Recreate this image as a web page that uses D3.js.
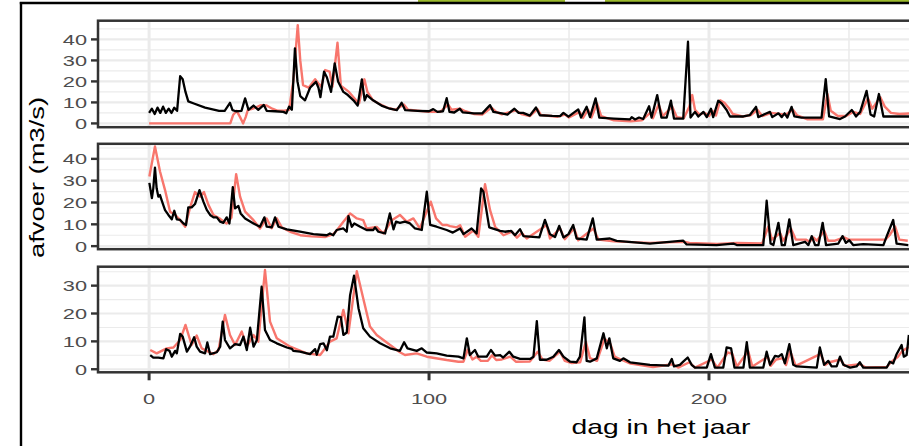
<!DOCTYPE html>
<html>
<head>
<meta charset="utf-8">
<script src="https://cdn.jsdelivr.net/npm/d3@7"></script>
<style>
  body { margin: 0; background: #fff; }
  svg { display: block; font-family: "Liberation Sans", Arial, sans-serif; }
</style>
</head>
<body>
<svg width="909" height="446"></svg>
<script>
// values: [day, afvoer]
const obs1 = [[0,0],[29,0],[30,4],[31.3,6],[32.5,3],[33.6,0],[34.5,3],[35.3,6.5],[36.5,6.8],[38,7.5],[40,8.7],[42,8.5],[44,7],[46,6],[48,6],[50,6.5],[51.5,20],[53.1,46.8],[54,30],[55,18.2],[57,17],[59.3,21],[60.5,19],[61.5,17.5],[62.9,25.4],[64.5,24.6],[65.5,17.5],[67.3,38.4],[68.5,18],[71.4,15],[73,12.5],[75,9.5],[76.9,21],[78,15],[80,11],[82,9.5],[85,7.5],[88,6.5],[91,9],[92.5,6.5],[96,6],[100,5.5],[104,5.5],[106.8,9],[108,6.5],[111,7],[113,5.8],[116,4.5],[119,4.2],[122.3,7.5],[124,5.5],[126,4.3],[131,6.2],[133,4.5],[136,3.5],[138.7,6.8],[140,4],[146,3.2],[148.5,4.2],[150,2.8],[153.8,5.5],[155,2.6],[156.8,6.5],[158,2.8],[160,9.5],[161.5,3.5],[166,1.5],[172,1],[176,1.5],[179,5],[180,2.5],[182,9],[183.5,3.5],[186.9,8],[188.5,3],[191,2.5],[193,8],[194,13.5],[195,6.5],[196.5,4.3],[198.5,5],[200,3.5],[201.2,6],[202.5,3.8],[204,11],[205.5,9.8],[207,7.5],[208.5,4.5],[212,3.3],[215,4],[217.3,6.5],[219,3.5],[222.3,5],[225.3,4.5],[227.5,4.2],[230,6.5],[231.5,3.8],[235,2],[240.7,2],[242.3,14],[243.5,6],[246,3.5],[249,3.5],[251.5,5.5],[254,4.5],[256.8,12],[258.3,7],[261.2,12.5],[262.8,8],[265,5],[268,4.5],[272,4.8]];
const sim1 = [[0,5],[1,7],[2,4.5],[3,7.5],[4,5],[5,8],[6,5],[7,7],[8,5],[9,7.5],[10,6],[11.1,22.5],[12,21],[13,15],[14,10.5],[16,9.5],[20,7.5],[25,6],[27,6],[28.9,9.8],[29.8,6.3],[31,5.8],[33,6],[34.3,11.9],[35.5,6.5],[37.3,8.5],[39,6.5],[41,8.8],[42,6],[45,5.8],[48,5.5],[49,4.8],[50,8],[51,6.5],[52.1,35.7],[53,20],[54,13],[55.7,11],[57.5,17],[59.6,19.8],[60.5,17],[61.2,12.5],[62.5,24.6],[63.5,22],[65,15],[66.3,28.6],[67.5,20],[69.4,15],[71,13.5],[73,11],[74.5,8.5],[76,21],[77,11],[77.8,13.5],[80,11],[83,8.5],[86,7],[88.5,6.3],[90.2,9.8],[91.5,6.3],[96,6],[100,5.8],[101.5,6.8],[103,5.5],[105,5.8],[106.3,12],[107.3,5.5],[109,5.2],[111,7],[112,5.3],[116,4.8],[119,4.8],[121.8,8.7],[123,5.5],[126,4.8],[128,4.2],[130.5,7],[132,5],[133.6,5],[136,3.7],[138.2,7.6],[139.6,3.9],[144,3.6],[146.8,3.5],[148,5],[149.8,3.2],[153.3,6.7],[154.3,2.8],[156.3,7.9],[157.5,3],[159.5,11.9],[160.8,2.8],[166,2.3],[171.8,1.9],[172.4,3],[173.6,1.9],[175,2.8],[176.5,2.1],[178.6,8.2],[179.5,2.8],[181.5,13.5],[183,2.8],[184.9,2.8],[186.4,10.8],[187.5,2.3],[190.8,2.3],[192.5,38.9],[193.4,2.8],[195,5.5],[196.2,3.3],[198,5.5],[199.2,3],[200.7,7],[201.5,3],[203.3,10.8],[204.5,9.6],[206.3,6.4],[207.5,3.3],[212.3,3.3],[214.6,4],[216.8,7.9],[217.6,3],[220,4.5],[221.8,5.5],[222.6,3],[224.8,4.8],[226,3],[227,4.8],[228,2.8],[229.5,7.9],[230.5,3.3],[233,2.8],[240.2,2.8],[241.7,21.1],[242.9,3.3],[246.8,2.1],[248.6,3.3],[251,6.4],[252.5,3.3],[254,5.5],[256.3,15.5],[257.7,4.3],[259,3.3],[260.7,14],[262.3,3.3],[266,3.3],[272,3.3]];

const obs2 = [[0.1,31.9],[2.1,45.7],[3.9,34.2],[5.7,25.7],[7.5,15.8],[9.3,14.3],[11.1,11.9],[12.9,8.9],[14.6,17.5],[16.4,24.8],[18.2,22.7],[19.6,24.8],[21.2,18.9],[23,14.3],[25.4,12.5],[27.7,10.4],[29.4,13],[31.1,33],[32.5,22.7],[34.3,15.8],[37.3,11.9],[39.6,8.1],[42,12.7],[43.8,8.2],[45.6,12.7],[47.4,8.6],[50.4,6.6],[54,5],[58,4.5],[63,4.2],[65.8,5.5],[67,7.2],[69.4,11.2],[71.8,15],[74.2,12.7],[76.5,11.9],[77.7,8.1],[81.3,8.8],[83.7,5.8],[86.7,11.9],[89.6,14.3],[92,11.2],[94.4,12.7],[96.7,8.1],[100.6,20.4],[102.5,12.7],[104.8,9.7],[106.3,9.7],[107.5,9.2],[109.9,8.6],[111.1,9.6],[112.9,4.3],[115.8,7.2],[117.6,4.3],[120,28.4],[121.8,16.5],[123.6,8.9],[126.6,5],[129.6,6.6],[131.4,3.9],[133.1,6.1],[134.9,3.5],[142,9.7],[143.2,3.5],[146.8,8.1],[148.5,3.2],[151.8,8.1],[153.3,2.7],[158.7,8.1],[160.5,3],[166,2.2],[179,1.5],[191,2],[193,1.5],[203,1],[210,1.5],[219,1.2],[221.2,9],[222.5,3],[225.4,6],[226.5,2.5],[229.3,8],[231,3],[234.6,3],[236,2],[237.3,4],[238.5,2.5],[241.2,7],[242.5,2.5],[245,2.5],[248.3,4],[250,3],[254,3],[260,3],[263,3],[264.5,5],[266.5,9],[268,3],[271,2.5]];
const sim2 = [[0.1,29],[1,22],[1.5,26.5],[2.1,36],[2.7,26.5],[3.3,22.7],[3.9,23.4],[4.5,21],[5.7,16.5],[6.9,14.3],[8.1,12.3],[9,16.2],[9.9,12.3],[11.1,12],[12.3,10.4],[13.2,9.7],[14,17.8],[15.2,17.8],[16.4,19.3],[18,25.7],[19.4,20.4],[20.6,16.6],[21.8,14.3],[23,13.2],[24.2,13.2],[25.4,11.2],[26.5,10.7],[27.7,13.2],[28.7,10.4],[29.9,27],[30.7,17.3],[31.9,18.4],[32.7,15],[34.3,12.7],[37.3,10.4],[39.6,8.9],[41.2,13.2],[42,8.9],[43.8,8.6],[45,13.2],[46.2,8.9],[49.2,7.7],[53.9,6.6],[58.7,5.5],[63.5,5],[64.6,5.8],[65.8,5],[67,7.4],[69.4,8.1],[70.6,6.6],[71.2,13.8],[72.4,8.9],[73.3,10.4],[75.4,8.9],[77.7,7.4],[80.1,7.4],[80.7,8.6],[81.9,6.6],[84.3,5.8],[86,15],[87.3,7.7],[88.2,11.2],[89.6,10.7],[91.4,11.2],[93.2,10.4],[95,8.1],[97.4,7.4],[99.2,25],[100.4,9.7],[102.7,8.9],[106.3,7.4],[108.5,6.2],[111.1,8.1],[112.3,5.5],[115.2,8.1],[117,5.8],[118.6,26.5],[119.4,25],[121.5,8.6],[125.4,7],[127.1,6.6],[129.3,7],[130.7,5],[132.5,7.8],[133.7,4.6],[139.4,4],[141.4,12],[143.2,5.5],[145,4.2],[146.5,9.3],[148,4],[149.8,5.5],[151.5,9.7],[152.7,3.5],[156.3,3],[158.5,12.7],[159.9,3],[164.6,3.5],[167,2.4],[178.9,1.2],[190.8,2.5],[192,0.8],[202.7,0.5],[208.7,1.2],[209.9,0.5],[219.4,0.5],[220.6,20.8],[222,1.2],[223,0.5],[224.8,10.7],[226,0.5],[227.1,0.5],[228.7,12.3],[230.1,0.5],[234.3,2],[235.5,0.5],[236.7,4.6],[237.9,0.5],[239.1,0.5],[240.6,10.7],[241.8,0.5],[246.2,1.2],[247.7,4.6],[248.9,1.5],[250.1,2.7],[251.5,0.5],[255.1,0.9],[262.3,0.5],[263.5,4.6],[265.8,12],[267,1.2],[271.2,0.5]];

const obs3 = [[0.4,6.9],[2.7,5.7],[6.3,7.5],[8.7,7.8],[11.1,10.5],[13,15.9],[15.2,8.7],[17,12.1],[18.8,7.5],[23,5.4],[24.8,6.9],[27.1,19.5],[28.9,12.3],[30.7,8.7],[33.1,13.5],[34.9,8.1],[37.3,12.3],[39,9.9],[41.4,35.6],[43.2,17.1],[45.6,11.1],[50.4,8.1],[56.3,5.7],[61.1,5.1],[62.9,7.5],[64.6,9.9],[67,11.1],[69.4,21.3],[71.2,12.9],[74.2,35.2],[76.5,25.4],[78.9,15.3],[81.3,12.3],[86.1,8.7],[89.6,6.1],[91.4,5.1],[95.6,5.7],[99.2,4.5],[106.3,3.3],[110.5,2.7],[112.3,2.7],[113.8,7],[115.5,3.5],[117,4.5],[118.5,3],[121,3],[122.5,5],[124,3.3],[126,3.5],[129,4.5],[131,2.7],[136,2.8],[138.8,6.3],[140.5,3.5],[143,3],[146.8,6.3],[148.5,3],[151,2.2],[154,2.5],[156,9.9],[157.5,4],[160,3],[162.7,11],[164.8,9],[166.3,4.5],[168.5,3.5],[172,2],[180,0.8],[187,1.8],[189,0.6],[193,2.5],[195,0.6],[201,3.5],[203,0.6],[206.7,6],[208.3,5.5],[210,1],[214,6.5],[215.5,1],[221,4.5],[222,1.2],[224,3.5],[226.4,4],[227.5,1.5],[229,6.5],[231,1.2],[239.9,5.5],[241.5,1.5],[243,2.5],[247,3.5],[248.5,1.2],[254,1.8],[256,0.6],[263.5,0.8],[265,2.5],[267.5,4.5],[269,6.5],[271.4,8]];
const sim3 = [[0.4,5.1],[1.5,4.2],[3.3,4.2],[5.1,3.9],[6.1,7.2],[7.3,6.6],[8.1,4.5],[9.3,6.6],[9.9,5.7],[11.1,12.7],[12,11.7],[13.5,6.3],[14.6,8.1],[16.1,11.5],[17,8.1],[18.2,6.3],[20,5.7],[20.8,9.6],[21.8,5.4],[24.2,6.1],[25.4,8.1],[26.3,17.1],[27.1,10.5],[28.9,7.5],[30.7,9],[32.5,8.7],[33.7,11.7],[34.9,6.9],[36.1,14.9],[37.3,8.1],[38.5,10.5],[40.2,29.6],[41.4,14.1],[43.2,10.5],[45.6,9.3],[49.2,7.8],[51,7.3],[51.5,6.6],[53.9,6.3],[57.5,5.4],[59.3,7.2],[59.9,5.2],[61.1,9],[62.3,9.3],[63.5,6.8],[64.6,11.7],[65.8,11.7],[67.4,18.9],[68.5,18.7],[69.4,12.3],[70.6,13.2],[71.8,26.6],[73.2,33.6],[74.8,21.9],[76.5,14.7],[78.9,11.7],[82.5,9.3],[86.1,7.5],[89.6,6.6],[91.1,9.7],[92.3,7.5],[95.6,6.6],[97.4,7.5],[99.2,6],[102.7,5.7],[106.3,4.9],[110.5,4.5],[112.3,3.9],[113.5,11.1],[114.6,5.1],[116.4,6.9],[117.6,4.5],[120.6,4.5],[122.1,6.9],[123.6,4.9],[125.4,5.1],[126.5,4.2],[128.7,6.3],[130.1,4.5],[132.5,3.7],[136.1,3.7],[137.3,4.5],[138.5,17.3],[139.6,3.4],[142,3.4],[144.4,4.5],[146.4,6.9],[148,4.5],[150.4,2.7],[152.7,2.5],[153.9,4.5],[155.5,18.6],[156.3,3],[157.5,2.7],[159.9,3.9],[162.3,12.9],[163.5,7.5],[164.4,11.1],[165.8,3.9],[168.2,3],[169.4,3.9],[171.8,2.5],[178.9,1.6],[185.5,1.3],[186.7,3.7],[187.5,1],[189.6,1.6],[190.8,2.7],[192.4,4.2],[193.8,1.6],[195,0.6],[199.2,0.6],[200.7,5.4],[202.1,0.6],[205.1,0.6],[206.3,7.8],[207.9,7.5],[209.1,0.6],[212.3,0.6],[213.5,9.7],[214.6,0.6],[219.4,0.6],[220.6,6.3],[221.8,1.6],[223.6,4.8],[224.8,4.5],[226,5.4],[227.1,2.1],[228.7,9],[230.1,1.6],[231.3,1],[238.5,0.6],[239.6,7.8],[241.1,1.6],[242.6,3],[243.8,1],[245.6,1],[246.8,4.5],[248,1.6],[250.4,0.6],[252.7,1],[253.9,2.5],[255.1,0.6],[263.5,0.6],[264.6,2.7],[265.8,2.1],[267,5.4],[268.8,8.7],[269.6,4.5],[270.6,5.1],[271.4,12.3]];

// tick values and labels
const xTicks = [0, 100, 200, 300];
const yTicks = [[0, 10, 20, 30, 40], [0, 10, 20, 30, 40], [0, 10, 20, 30]];
const yLimits = [[-1.8, 48.9], [-1.4, 46.9], [-1.1, 36.8]];
const xTitle = 'dag in het jaar';
const yTitle = 'afvoer (m3/s)';

const svg = d3.select('svg');
const svgWidth = Number(svg.attr('width'));

// ggplot panel layout (the plot is cropped on the right)
const panelLeft = 98;
const panelRight = 1222;
const panelBoxes = [{ t: 20.7, b: 127.2 }, { t: 143.8, b: 249.2 }, { t: 266.7, b: 372.3 }];
const red = '#F8766D';
const stretchX = 1.45; // the screenshot is widened, text included

const xScale = d3.scaleLinear()
    .domain([-18.25, 383.25])
    .range([panelLeft, panelRight]);

function stretch(sel, k) {
    sel.each(function () {
        const w = this.getComputedTextLength();
        d3.select(this).attr('textLength', w * k).attr('lengthAdjust', 'spacingAndGlyphs');
    });
}

// slide frame around the screenshot
svg.append('rect').attr('x', 418).attr('y', 0).attr('width', 147).attr('height', 2).attr('fill', '#9DBB2E');
svg.append('rect').attr('x', 605).attr('y', 0).attr('width', 304).attr('height', 2).attr('fill', '#9DBB2E');
svg.append('line').attr('x1', 19.8).attr('x2', 909).attr('y1', 3).attr('y2', 3)
    .attr('stroke', '#000').attr('stroke-width', 2.4);
svg.append('line').attr('x1', 21).attr('x2', 21).attr('y1', 2).attr('y2', 446)
    .attr('stroke', '#000').attr('stroke-width', 2.4);

const series = [[obs1, sim1], [obs2, sim2], [obs3, sim3]];

series.forEach(function (pair, i) {
    const box = panelBoxes[i];
    const yScale = d3.scaleLinear().domain(yLimits[i]).range([box.b, box.t]);
    const g = svg.append('g').attr('class', 'panel');

    g.append('clipPath').attr('id', 'clip' + i)
        .append('rect')
        .attr('x', panelLeft).attr('y', box.t)
        .attr('width', panelRight - panelLeft).attr('height', box.b - box.t);

    g.append('rect')
        .attr('x', panelLeft).attr('y', box.t)
        .attr('width', panelRight - panelLeft).attr('height', box.b - box.t)
        .attr('fill', '#fff');

    const grid = g.append('g').attr('clip-path', `url(#clip${i})`);
    const yt = yTicks[i];
    const yMinor = yt.map(d => d + 5).filter(d => d < yLimits[i][1]);
    const xMinor = xTicks.map(d => d + 50);

    grid.selectAll('.ymin').data(yMinor).enter().append('line')
        .attr('x1', panelLeft).attr('x2', panelRight)
        .attr('y1', d => yScale(d)).attr('y2', d => yScale(d))
        .attr('stroke', '#EBEBEB').attr('stroke-width', 1.1);
    grid.selectAll('.xmin').data(xMinor).enter().append('line')
        .attr('x1', d => xScale(d)).attr('x2', d => xScale(d))
        .attr('y1', box.t).attr('y2', box.b)
        .attr('stroke', '#EBEBEB').attr('stroke-width', 1.5);
    grid.selectAll('.ymaj').data(yt).enter().append('line')
        .attr('x1', panelLeft).attr('x2', panelRight)
        .attr('y1', d => yScale(d)).attr('y2', d => yScale(d))
        .attr('stroke', '#EBEBEB').attr('stroke-width', 2.2);
    grid.selectAll('.xmaj').data(xTicks).enter().append('line')
        .attr('x1', d => xScale(d)).attr('x2', d => xScale(d))
        .attr('y1', box.t).attr('y2', box.b)
        .attr('stroke', '#EBEBEB').attr('stroke-width', 3);

    const line = d3.line().x(d => xScale(d[0])).y(d => yScale(d[1]));

    grid.append('path').datum(pair[0])
        .attr('d', line).attr('fill', 'none')
        .attr('stroke', red).attr('stroke-width', 2.4).attr('stroke-linejoin', 'round');
    grid.append('path').datum(pair[1])
        .attr('d', line).attr('fill', 'none')
        .attr('stroke', '#000').attr('stroke-width', 2.3).attr('stroke-linejoin', 'round');

    g.append('rect')
        .attr('x', panelLeft).attr('y', box.t)
        .attr('width', panelRight - panelLeft).attr('height', box.b - box.t)
        .attr('fill', 'none').attr('stroke', '#333').attr('stroke-width', 2.5);

    // y axis
    g.selectAll('.ytick').data(yt).enter().append('line')
        .attr('x1', panelLeft - 7).attr('x2', panelLeft)
        .attr('y1', d => yScale(d)).attr('y2', d => yScale(d))
        .attr('stroke', '#333').attr('stroke-width', 2.4);
    g.selectAll('.ylab').data(yt).enter().append('text')
        .attr('x', 87).attr('y', d => yScale(d))
        .attr('dy', '0.36em')
        .attr('text-anchor', 'end')
        .attr('font-size', 15)
        .attr('fill', '#4D4D4D')
        .text(d => d)
        .call(stretch, stretchX);
});

// x axis under the bottom panel; only ticks inside the crop get a label
const bottom = panelBoxes[2].b;
const shownX = xTicks.filter(d => xScale(d) < svgWidth);
const xAxisG = svg.append('g').attr('class', 'x axis');
xAxisG.selectAll('line').data(shownX).enter().append('line')
    .attr('x1', d => xScale(d)).attr('x2', d => xScale(d))
    .attr('y1', bottom).attr('y2', bottom + 8)
    .attr('stroke', '#333').attr('stroke-width', 3);
xAxisG.selectAll('text').data(shownX).enter().append('text')
    .attr('x', d => xScale(d)).attr('y', 403.5)
    .attr('text-anchor', 'middle')
    .attr('font-size', 15)
    .attr('fill', '#4D4D4D')
    .text(d => d)
    .call(stretch, stretchX);

svg.append('text')
    .attr('x', 661).attr('y', 434)
    .attr('text-anchor', 'middle')
    .attr('font-size', 21)
    .attr('fill', '#000')
    .attr('textLength', 179).attr('lengthAdjust', 'spacingAndGlyphs')
    .text(xTitle);

svg.append('text')
    .attr('transform', 'translate(44, 258) rotate(-90)')
    .attr('text-anchor', 'start')
    .attr('font-size', 21)
    .attr('fill', '#000')
    .attr('textLength', 161).attr('lengthAdjust', 'spacingAndGlyphs')
    .text(yTitle);
</script>
</body>
</html>
